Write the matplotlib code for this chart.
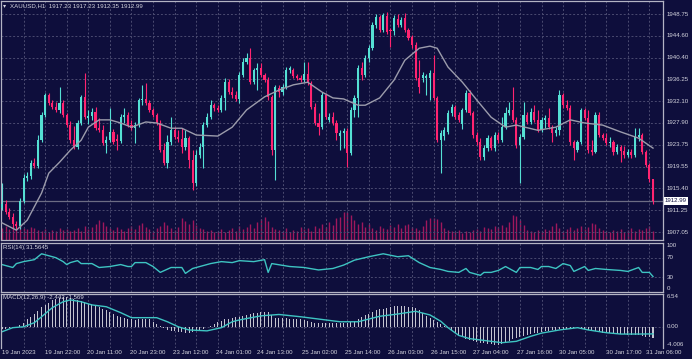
import matplotlib
matplotlib.use("Agg")
import matplotlib.pyplot as plt
from matplotlib.transforms import blended_transform_factory as blend

plt.rcParams['font.family'] = ['Liberation Sans', 'DejaVu Sans']

# ---- XAUUSD H1 candles (19 Jan 10:00 .. 31 Jan 06:00) ----
opens = [
    1911.6, 1912.4, 1910.9, 1909.9, 1908.6, 1908.2, 1913.0, 1917.4, 1917.8, 1920.2,
    1919.7, 1924.6, 1929.4, 1933.2, 1931.7, 1930.9, 1930.4, 1931.7, 1929.4, 1927.5,
    1924.6, 1923.3, 1927.9, 1932.9, 1928.8, 1929.2, 1930.0, 1926.9, 1926.5, 1924.1,
    1924.6, 1926.2, 1924.8, 1924.4, 1929.0, 1929.4, 1927.5, 1926.9, 1927.5, 1932.3,
    1932.5, 1931.7, 1930.4, 1929.4, 1927.9, 1922.7, 1920.2, 1924.2, 1926.5, 1925.2,
    1924.8, 1923.3, 1925.0, 1920.8, 1916.4, 1921.8, 1923.3, 1927.5, 1929.0, 1931.3,
    1930.7, 1930.4, 1932.7, 1935.7, 1933.8, 1933.2, 1932.5, 1937.1, 1939.5, 1940.3,
    1935.7, 1938.0, 1938.4, 1937.1, 1936.1, 1932.9, 1922.7, 1934.6, 1933.8, 1934.8,
    1938.0, 1938.0, 1936.9, 1936.5, 1936.1, 1937.3, 1935.5, 1930.9, 1927.9, 1927.1,
    1933.2, 1928.5, 1929.0, 1927.9, 1925.4, 1926.0, 1926.3, 1922.1, 1930.4, 1932.7,
    1938.4, 1937.1, 1940.3, 1942.2, 1946.6, 1948.2, 1945.7, 1948.3, 1945.7, 1945.5,
    1947.8, 1946.6, 1948.0, 1945.7, 1944.3, 1942.8, 1936.5, 1936.5, 1936.5, 1936.5,
    1937.4, 1932.7, 1924.6, 1925.4, 1926.2, 1929.8, 1930.9, 1929.4, 1927.7, 1930.4,
    1933.6, 1929.8, 1925.6, 1924.2, 1921.4, 1923.1, 1925.0, 1923.1, 1925.6, 1924.6,
    1927.1, 1929.8, 1930.4, 1928.5, 1923.7, 1925.2, 1929.4, 1928.1, 1930.0, 1928.5,
    1926.5, 1928.5, 1928.8, 1927.1, 1926.0, 1926.5, 1933.2, 1931.3, 1930.7, 1924.2,
    1922.7, 1924.2, 1930.4, 1928.8, 1922.7, 1922.3, 1929.4, 1925.6, 1925.0, 1924.1,
    1924.2, 1922.3, 1923.3, 1922.5, 1921.8, 1922.3, 1921.8, 1925.2, 1925.6, 1922.3,
    1919.9, 1917.23,
]
highs = [
    1916.4, 1913.2, 1911.6, 1910.7, 1909.1, 1913.5, 1918.1, 1918.5, 1920.8, 1921.2,
    1925.6, 1930.0, 1933.6, 1933.6, 1932.3, 1931.9, 1934.8, 1932.3, 1929.8, 1928.3,
    1927.3, 1928.5, 1933.2, 1937.4, 1930.4, 1930.7, 1930.9, 1928.8, 1927.5, 1925.4,
    1930.7, 1926.7, 1925.8, 1929.6, 1930.7, 1930.0, 1928.5, 1928.1, 1932.7, 1935.2,
    1935.5, 1932.3, 1930.7, 1929.8, 1928.5, 1924.1, 1925.6, 1929.0, 1927.1, 1926.5,
    1926.9, 1926.5, 1925.4, 1922.7, 1922.7, 1924.1, 1928.1, 1929.8, 1932.3, 1931.7,
    1931.3, 1933.2, 1936.5, 1936.3, 1934.8, 1934.0, 1937.6, 1940.3, 1941.3, 1942.2,
    1938.4, 1939.4, 1939.4, 1937.4, 1936.7, 1933.2, 1935.2, 1935.2, 1935.3, 1938.6,
    1938.8, 1938.4, 1937.3, 1937.1, 1939.5, 1939.5, 1935.9, 1931.7, 1929.8, 1933.8,
    1933.6, 1929.8, 1930.0, 1928.5, 1926.5, 1926.9, 1926.9, 1930.9, 1933.2, 1939.0,
    1939.5, 1940.9, 1942.8, 1947.2, 1948.7, 1948.5, 1948.9, 1949.1, 1946.0, 1948.5,
    1948.7, 1948.2, 1948.9, 1946.0, 1944.7, 1943.4, 1939.9, 1937.6, 1937.3, 1938.0,
    1940.9, 1933.0, 1926.5, 1927.1, 1930.4, 1931.5, 1931.3, 1930.0, 1930.7, 1934.2,
    1934.2, 1930.2, 1926.2, 1925.0, 1923.7, 1925.6, 1925.4, 1926.2, 1926.2, 1929.0,
    1930.9, 1931.9, 1934.8, 1929.0, 1925.8, 1931.9, 1930.0, 1930.7, 1931.3, 1930.4,
    1929.0, 1929.4, 1930.7, 1927.5, 1927.1, 1934.2, 1933.6, 1932.3, 1931.3, 1924.6,
    1924.6, 1930.7, 1930.7, 1930.4, 1924.6, 1930.0, 1930.0, 1926.0, 1926.0, 1925.2,
    1924.6, 1923.9, 1923.7, 1923.5, 1922.9, 1922.9, 1926.9, 1926.9, 1926.0, 1922.7,
    1920.2, 1917.23,
]
lows = [
    1911.2, 1910.5, 1909.5, 1907.8, 1907.4, 1907.6, 1912.6, 1916.8, 1917.2, 1919.3,
    1919.3, 1924.2, 1929.0, 1931.3, 1930.6, 1930.0, 1929.8, 1929.0, 1927.1, 1924.1,
    1922.9, 1922.9, 1927.5, 1928.6, 1927.7, 1928.5, 1926.5, 1926.2, 1923.7, 1922.1,
    1924.2, 1923.9, 1922.7, 1924.1, 1927.9, 1927.1, 1926.5, 1924.1, 1927.1, 1931.3,
    1931.3, 1930.0, 1929.0, 1927.5, 1922.3, 1919.9, 1919.3, 1923.7, 1924.8, 1924.2,
    1922.1, 1922.7, 1919.3, 1915.1, 1915.8, 1921.2, 1919.3, 1927.1, 1928.6, 1930.2,
    1930.0, 1930.0, 1930.4, 1933.4, 1932.7, 1932.1, 1931.7, 1936.7, 1939.2, 1935.3,
    1935.3, 1934.2, 1936.7, 1935.7, 1932.3, 1921.8, 1917.0, 1932.9, 1933.2, 1934.4,
    1937.4, 1936.5, 1936.1, 1935.7, 1935.7, 1935.2, 1930.6, 1927.5, 1925.6, 1926.7,
    1928.6, 1928.1, 1927.5, 1924.6, 1922.7, 1923.1, 1919.5, 1921.8, 1929.0, 1929.0,
    1936.1, 1936.7, 1939.5, 1941.8, 1946.0, 1945.3, 1945.3, 1944.9, 1942.4, 1944.7,
    1946.2, 1946.2, 1945.3, 1943.8, 1942.2, 1936.1, 1933.6, 1935.7, 1933.2, 1932.3,
    1932.3, 1924.2, 1918.3, 1924.6, 1925.8, 1929.2, 1928.6, 1928.1, 1926.7, 1930.0,
    1929.4, 1925.0, 1923.7, 1920.8, 1920.8, 1922.5, 1922.7, 1922.5, 1924.1, 1924.2,
    1926.7, 1929.4, 1928.1, 1923.1, 1916.4, 1924.8, 1927.7, 1927.7, 1928.1, 1926.2,
    1926.2, 1926.9, 1926.7, 1924.2, 1925.4, 1925.6, 1930.7, 1930.4, 1923.7, 1920.8,
    1922.3, 1923.9, 1928.5, 1922.1, 1921.8, 1922.1, 1925.2, 1924.6, 1923.7, 1923.3,
    1921.8, 1922.0, 1920.4, 1921.2, 1921.4, 1921.2, 1921.4, 1924.4, 1922.0, 1919.5,
    1916.6, 1912.35,
]
closes = [
    1912.4, 1910.9, 1909.9, 1908.6, 1908.2, 1913.0, 1917.4, 1917.8, 1920.2, 1919.7,
    1924.6, 1929.4, 1933.2, 1931.7, 1930.9, 1930.4, 1931.7, 1929.4, 1927.5, 1924.6,
    1923.3, 1927.9, 1932.9, 1929.0, 1929.2, 1930.0, 1926.9, 1926.5, 1924.1, 1924.6,
    1926.2, 1924.2, 1924.4, 1929.0, 1929.4, 1927.5, 1926.9, 1927.5, 1932.3, 1932.5,
    1931.7, 1930.4, 1929.4, 1927.9, 1922.7, 1920.2, 1924.2, 1926.5, 1925.2, 1924.8,
    1923.3, 1925.0, 1920.8, 1916.4, 1921.8, 1923.3, 1927.5, 1929.0, 1931.3, 1930.7,
    1930.4, 1932.7, 1935.7, 1933.8, 1933.2, 1932.5, 1937.1, 1939.5, 1940.3, 1935.7,
    1938.0, 1938.4, 1937.1, 1936.1, 1932.9, 1922.7, 1934.8, 1933.8, 1934.8, 1938.0,
    1938.4, 1936.9, 1936.5, 1936.1, 1937.3, 1935.5, 1930.9, 1927.9, 1927.1, 1933.2,
    1929.0, 1929.0, 1927.9, 1926.0, 1926.0, 1926.3, 1922.1, 1930.4, 1932.7, 1938.4,
    1937.1, 1940.3, 1942.2, 1946.6, 1948.2, 1945.7, 1948.5, 1945.3, 1945.5, 1948.0,
    1946.6, 1947.6, 1945.7, 1944.1, 1942.8, 1936.5, 1934.8, 1937.1, 1936.9, 1937.4,
    1932.7, 1924.6, 1926.0, 1926.5, 1929.8, 1930.9, 1929.0, 1928.5, 1930.4, 1933.6,
    1929.8, 1925.6, 1924.2, 1921.4, 1923.1, 1925.0, 1923.1, 1925.6, 1924.6, 1927.1,
    1929.8, 1930.4, 1928.5, 1923.7, 1925.2, 1929.4, 1928.1, 1930.0, 1928.5, 1926.5,
    1928.5, 1928.8, 1927.1, 1926.0, 1926.5, 1933.2, 1931.3, 1930.7, 1924.2, 1923.1,
    1924.2, 1930.4, 1928.8, 1922.7, 1922.3, 1929.4, 1925.6, 1925.0, 1924.1, 1924.2,
    1922.3, 1923.3, 1922.5, 1921.8, 1922.3, 1921.8, 1925.2, 1925.6, 1922.3, 1919.9,
    1917.23, 1912.99,
]
volumes = [
    12, 14, 11, 13, 10, 15, 12, 11, 13, 12,
    10, 9, 11, 8, 10, 9, 12, 10, 11, 9,
    10, 12, 9, 14, 11, 13, 16, 20, 18, 14,
    12, 10, 13, 11, 9, 12, 14, 11, 15, 17,
    13, 11, 9, 12, 14, 18, 15, 12, 10, 13,
    22, 19, 16, 20, 15, 12, 11, 9, 10, 8,
    9, 11, 8, 10, 12, 9, 14, 11, 13, 16,
    12, 18, 21, 23, 19, 13, 11, 10, 9, 12,
    8, 10, 9, 13, 11, 12, 9, 14, 12, 16,
    13, 18, 15, 22, 23, 28, 28, 25, 20, 16,
    18, 13, 16, 12, 10, 14, 12, 11, 15, 13,
    16, 12, 15, 16, 13, 12, 10, 14, 20, 22,
    22, 21, 18, 12, 10, 9, 8, 10, 7, 9,
    8, 10, 11, 9, 13, 12, 11, 14, 13, 15,
    13, 18, 25, 24, 20, 15, 10, 9, 8, 10,
    9, 11, 10, 14, 17, 12, 9, 11, 13, 10,
    12, 14, 11, 13, 17, 16, 12, 10, 9, 8,
    10, 9, 11, 8, 10, 12, 9, 11, 10, 12,
    14, 9,
]

# moving average (grey line), read at bar positions
ma_idx = [0, 4, 7, 11, 13, 16, 19, 22, 24, 27, 30, 33, 36, 40, 43, 47, 50, 54, 60, 64,
          68, 73, 77, 81, 85, 89, 92, 95, 99, 101, 105, 109, 112, 116, 119, 121, 124, 128,
          132, 136, 140, 143, 149, 154, 158, 162, 167, 172, 177, 181]
ma_val = [1908.8, 1907.4, 1909.3, 1914.5, 1918.3, 1920.4, 1922.7, 1924.6, 1927.1, 1928.5,
          1928.5, 1927.9, 1927.1, 1928.1, 1927.9, 1926.9, 1926.9, 1925.6, 1925.4, 1927.1,
          1930.4, 1932.9, 1934.2, 1935.2, 1935.7, 1933.8, 1932.7, 1932.5, 1931.3, 1931.3,
          1932.7, 1936.1, 1939.9, 1942.2, 1942.6, 1942.2, 1938.6, 1935.7, 1932.3, 1929.0,
          1927.1, 1927.5, 1926.5, 1927.1, 1928.5, 1927.9, 1927.5, 1926.2, 1925.0, 1923.1]

# RSI(14)
rsi_idx = [0, 3, 4, 6, 9, 11, 15, 17, 18, 19, 21, 22, 25, 27, 30, 33, 35, 36, 37, 40,
           42, 44, 47, 50, 51, 53, 55, 58, 61, 64, 66,
           70, 73, 74, 75, 80, 84, 88, 92, 95, 98, 102, 106, 110, 113, 116, 119, 122,
           124, 127, 129, 130, 133, 134, 136, 138, 140, 143, 144, 147, 149, 150, 152, 154,
           156, 158, 159, 162, 163, 165, 168, 172, 174, 177, 178, 180, 181]
rsi_val = [56, 50, 58, 62, 66, 78, 70, 62, 56, 60, 64, 58, 58, 50, 52, 56, 52, 52, 60, 60,
           52, 40, 50, 50, 38, 48, 52, 58, 62, 60, 64,
           62, 66, 40, 58, 52, 50, 45, 48, 55, 65, 72, 78, 72, 74, 60, 50, 46,
           42, 40, 48, 40, 34, 40, 40, 44, 52, 40, 50, 50, 46, 52, 52, 48,
           58, 54, 42, 52, 44, 48, 46, 44, 42, 50, 40, 40, 31.56]

# MACD(12,26,9): main (histogram) per bar, signal line
macd_main = [
    -0.6, -0.4, -0.3, -0.3, -0.1, 0.3, 0.9, 1.7, 2.2, 2.7,
    3.5, 4.3, 4.8, 5.3, 5.8, 6.0, 6.3, 6.5, 6.54, 6.4,
    6.2, 5.9, 5.6, 5.4, 5.1, 4.9, 4.6, 4.4, 4.0, 3.6,
    3.3, 2.9, 2.4, 2.1, 1.9, 1.8, 1.7, 1.5, 1.6, 1.7,
    1.8, 1.6, 1.1, 0.6, 0.2, -0.3, -0.7, -0.9, -1.0, -1.1,
    -1.2, -1.3, -1.3, -1.2, -1.0, -0.7, -0.4, -0.1, 0.2, 0.6,
    1.0, 1.3, 1.6, 1.8, 2.0, 2.1, 2.2, 2.4, 2.6, 2.8,
    3.0, 3.1, 3.2, 3.3, 3.3, 2.6, 2.0, 1.9, 1.9, 1.9,
    1.8, 1.8, 1.7, 1.6, 1.4, 1.2, 1.0, 0.9, 0.8, 0.8,
    0.8, 0.8, 0.8, 0.8, 0.8, 0.8, 0.9, 1.0, 1.3, 1.7,
    2.1, 2.5, 2.9, 3.3, 3.7, 4.0, 4.0, 4.2, 4.4, 4.5,
    4.6, 4.6, 4.5, 4.4, 4.3, 4.1, 3.6, 3.0, 2.4, 1.9,
    1.5, 1.0, 0.6, 0.2, -0.2, -0.8, -1.3, -1.8, -2.2, -2.6,
    -2.9, -3.1, -3.3, -3.5, -3.6, -3.7, -3.8, -3.9, -4.006, -3.8,
    -3.5, -3.1, -2.7, -2.4, -2.2, -2.0, -1.8, -1.6, -1.4, -1.3,
    -1.1, -1.0, -0.9, -0.8, -0.7, -0.6, -0.5, -0.4, -0.3, -0.2,
    -0.2, -0.3, -0.5, -0.7, -0.8, -1.0, -1.1, -1.3, -1.4, -1.4,
    -1.5, -1.5, -1.6, -1.6, -1.7, -1.7, -1.8, -1.9, -2.0, -2.2,
    -2.3, -2.442,
]
sig_idx = [0, 3, 6, 9, 11, 14, 17, 19, 22, 25, 29, 33, 36, 40, 43, 46, 49, 52, 57, 61,
           64, 66, 72, 77, 83, 88, 94, 99, 105, 110, 115, 119, 122,
           124, 127, 130, 134, 139, 143, 147, 150, 155, 160, 163, 168, 172, 177, 181]
sig_val = [-1.1, -0.2, 0.0, 0.9, 2.2, 4.2, 5.5, 5.9, 5.5, 4.8, 4.4, 3.1, 2.0, 2.0, 2.0,
           1.1, 0.0, -0.7, -0.9, -0.2, 1.1, 1.5, 2.4, 2.7, 2.2, 1.7, 1.1, 1.1, 2.3, 2.8,
           3.4, 2.6, 1.2,
           -0.2, -1.9, -2.6, -3.0, -3.5, -3.2, -2.1, -1.4, -0.7, -0.2, -0.7, -1.3, -1.6,
           -1.6, -1.569]

price_ticks = [1907.05, 1911.25, 1915.40, 1919.55, 1923.75, 1927.90, 1932.10, 1936.25,
               1940.40, 1944.60, 1948.75]
time_labels = ['19 Jan 2023', '19 Jan 22:00', '20 Jan 11:00', '20 Jan 23:00', '23 Jan 12:00',
               '24 Jan 01:00', '24 Jan 13:00', '25 Jan 02:00', '25 Jan 14:00', '26 Jan 03:00',
               '26 Jan 15:00', '27 Jan 04:00', '27 Jan 16:00', '30 Jan 05:00', '30 Jan 17:00',
               '31 Jan 06:00']
time_pos = [0, 12, 23.6, 35.6, 47.5, 59.4, 71, 83.3, 95.3, 107.2, 119.4, 131, 143.3, 155, 168, 179]

# ---- styling ----
W, H = 692, 359
BG = '#0e0e3c'
GRID = '#4a4a70'
FRAME = '#b4b4c4'
TXT = '#d4d4de'
BULL = '#55e0d4'
BEAR = '#ff2470'
VOL = '#a0185c'
FS = 4.4


def box(x0, y0, x1, y1):
    return [x0 / W, 1 - y1 / H, (x1 - x0) / W, (y1 - y0) / H]


fig = plt.figure(figsize=(W / 100, H / 100), dpi=100, facecolor=BG)
ax_v = fig.add_axes(box(1, 1, 663, 240))
ax_p = fig.add_axes(box(1, 1, 663, 240))
ax_r = fig.add_axes(box(1, 243, 663, 292))
ax_m = fig.add_axes(box(1, 294, 663, 348))

n = len(closes)
xs = list(range(n))
step = (653 - 2) / (n - 1)
xlim = (-(2 - 1) / step, n - 1 + (663 - 653) / step)

for ax in (ax_v, ax_p, ax_r, ax_m):
    ax.set_xlim(*xlim)
    ax.set_facecolor(BG)
    ax.set_xticks([])
    ax.set_yticks([])
    for s in ax.spines.values():
        s.set_color(FRAME)
        s.set_linewidth(0.9)
ax_p.patch.set_visible(False)
for s in ax_v.spines.values():
    s.set_visible(False)
ax_m.spines['bottom'].set_visible(False)

# price scale: 1948.75 at y=14 px, 1907.05 at y=232 px
ppx = (1948.75 - 1907.05) / (232 - 14)
ax_p.set_ylim(1907.05 - (240 - 232) * ppx, 1948.75 + (14 - 1) * ppx)

# volume
ax_v.set_ylim(0, max(volumes) * 239 / 28)
ax_v.vlines(xs, 0, volumes, color=VOL, lw=1.0)

# grid
gls = (0, (2, 2))
for t in price_ticks:
    ax_p.axhline(t, color=GRID, lw=0.7, ls=gls, zorder=0)
for i in range(6, n, 6):
    for ax in (ax_p, ax_r, ax_m):
        ax.axvline(i, color=GRID, lw=0.7, ls=gls, zorder=0)

# candles
cols = [BULL if c >= o else BEAR for o, c in zip(opens, closes)]
ax_p.vlines(xs, lows, highs, color=cols, lw=0.8, zorder=2)
bottoms = [min(o, c) for o, c in zip(opens, closes)]
heights = [max(abs(c - o), 0.15) for o, c in zip(opens, closes)]
ax_p.bar(xs, heights, bottom=bottoms, width=0.6, color=cols, linewidth=0, zorder=3)

ax_p.plot(ma_idx, ma_val, color='#9c9cac', lw=1.0, zorder=4)
ax_p.axhline(closes[-1], color='#6c6c84', lw=0.9, zorder=1)

tr_p = blend(ax_p.transAxes, ax_p.transData)
for t in price_ticks:
    ax_p.text(1 + 4 / 662, t, f'{t:.2f}', transform=tr_p, ha='left', va='center',
              fontsize=FS, color=TXT, clip_on=False)
ax_p.text(1 + 2 / 662, closes[-1], f'{closes[-1]:.2f}', transform=tr_p, ha='left',
          va='center', fontsize=FS, color='#101040', clip_on=False, zorder=6,
          bbox=dict(facecolor='white', edgecolor='none', pad=0.9))

# RSI
ax_r.set_ylim(0, 100)
for lv in (70, 30):
    ax_r.axhline(lv, color=GRID, lw=0.7, ls=gls, zorder=0)
ax_r.plot(rsi_idx, rsi_val, color='#3ec4c2', lw=1.0)
tr_r = blend(ax_r.transAxes, ax_r.transData)
for lv, pos in ((100, 94), (70, 70), (30, 30), (0, 8)):
    ax_r.text(1 + 4 / 662, pos, str(lv), transform=tr_r, ha='left', va='center',
              fontsize=FS, color=TXT, clip_on=False)

# MACD: 6.54 at y=297 px, -4.006 at y=345 px
mpx = (6.54 + 4.006) / (345 - 297)
ax_m.set_ylim(-4.006 - (348 - 345) * mpx, 6.54 + (297 - 294) * mpx)
ax_m.axhline(0, color=GRID, lw=0.7, ls=gls, zorder=0)
ax_m.bar(xs, macd_main, width=0.28, color='#c4c4d0', linewidth=0)
ax_m.plot(sig_idx, sig_val, color='#3ec4c2', lw=1.0)
tr_m = blend(ax_m.transAxes, ax_m.transData)
for lv, txt in ((6.54, '6.54'), (0, '0.00'), (-4.006, '-4.006')):
    ax_m.text(1 + 4 / 662, lv, txt, transform=tr_m, ha='left', va='center',
              fontsize=FS, color=TXT, clip_on=False)

# time axis
tr_t = blend(ax_m.transData, ax_m.transAxes)
for lab, pos in zip(time_labels, time_pos):
    ax_m.text(pos, -5 / 54, lab, transform=tr_t, ha='left', va='center',
              fontsize=FS, color=TXT, clip_on=False)

# panel captions
fig.text(3 / W, 1 - 6 / H, '\u25be', fontsize=FS, color=TXT, va='center', ha='left')
fig.text(10 / W, 1 - 6 / H, 'XAUUSD,H1  1917.23 1917.23 1912.35 1912.99',
         fontsize=FS, color=TXT, va='center', ha='left')
fig.text(3 / W, 1 - 247 / H, 'RSI(14) 31.5645', fontsize=FS, color=TXT,
         va='center', ha='left')
fig.text(3 / W, 1 - 298 / H, 'MACD(12,26,9) -2.442 -1.569', fontsize=FS, color=TXT,
         va='center', ha='left')

fig.savefig('out.png', dpi=100, facecolor=BG)
